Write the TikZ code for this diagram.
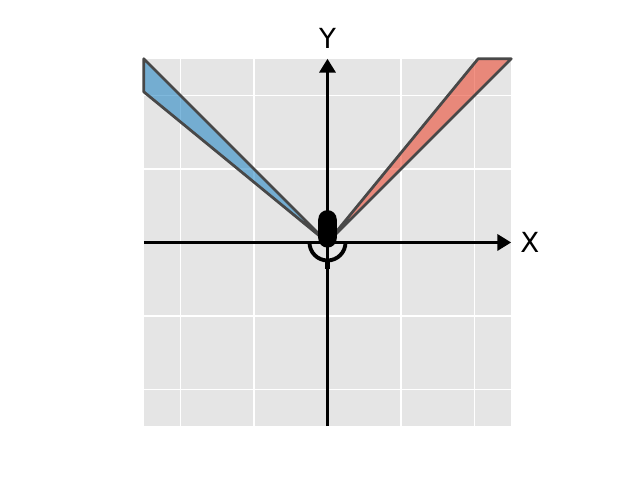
\documentclass[tikz,border=0pt]{standalone}
\usepackage{fontspec}
\setmainfont{DejaVu Sans}
\usetikzlibrary{arrows.meta}

\definecolor{panelgray}{RGB}{229,229,229}
\definecolor{wedgeblue}{RGB}{42,137,197}
\definecolor{wedgered}{RGB}{234,74,51}
\definecolor{wedgeedge}{RGB}{72,72,72}

\begin{document}
\begin{tikzpicture}[
  x=1.8669cm, y=1.8669cm,
  gridline/.style={draw=white, line width=1pt},
  wedge/.style={draw=wedgeedge, line width=2pt, line join=round, fill opacity=0.6},
  axis/.style={line width=2.8pt, -{Triangle[length=10pt, width=11.5pt]}},
  axlabel/.style={font=\fontsize{20}{24}\selectfont, inner sep=0pt}
]
\useasboundingbox (-4.456,-3.231) rectangle (4.252,3.299);

% panel and grid
\fill[panelgray] (-2.5,-2.5) rectangle (2.5,2.5);
\foreach \t in {-2,-1,1,2} {
  \draw[gridline] (\t,-2.5) -- (\t,2.5);
  \draw[gridline] (-2.5,\t) -- (2.5,\t);
}

% the two wedges
\coordinate (O) at (0,0);
\filldraw[wedge, fill=wedgeblue] (O) -- (-2.5,2.5) -- (-2.5,2.05) -- cycle;
\filldraw[wedge, fill=wedgered] (O) -- (2.05,2.5) -- (2.5,2.5) -- cycle;

% axes
\coordinate (xl) at (-2.5,0);
\coordinate (xr) at (2.5,0);
\coordinate (yb) at (0,-2.5);
\coordinate (yt) at (0,2.5);
\draw[axis] (xl) -- (xr);
\draw[axis] (yb) -- (yt);
\node[axlabel] (xlab) at (2.755,0) {X};
\node[axlabel] (ylab) at (0,2.78) {Y};

% microphone at the origin
\fill[black, rounded corners=0.235cm] (-0.126,-0.07) rectangle (0.126,0.44);
\draw[line width=2.8pt] (-0.245,0) arc[start angle=180, end angle=360, radius=0.245];
\draw[line width=3.4pt] (0,-0.245) -- (0,-0.36);

\end{tikzpicture}
\end{document}
